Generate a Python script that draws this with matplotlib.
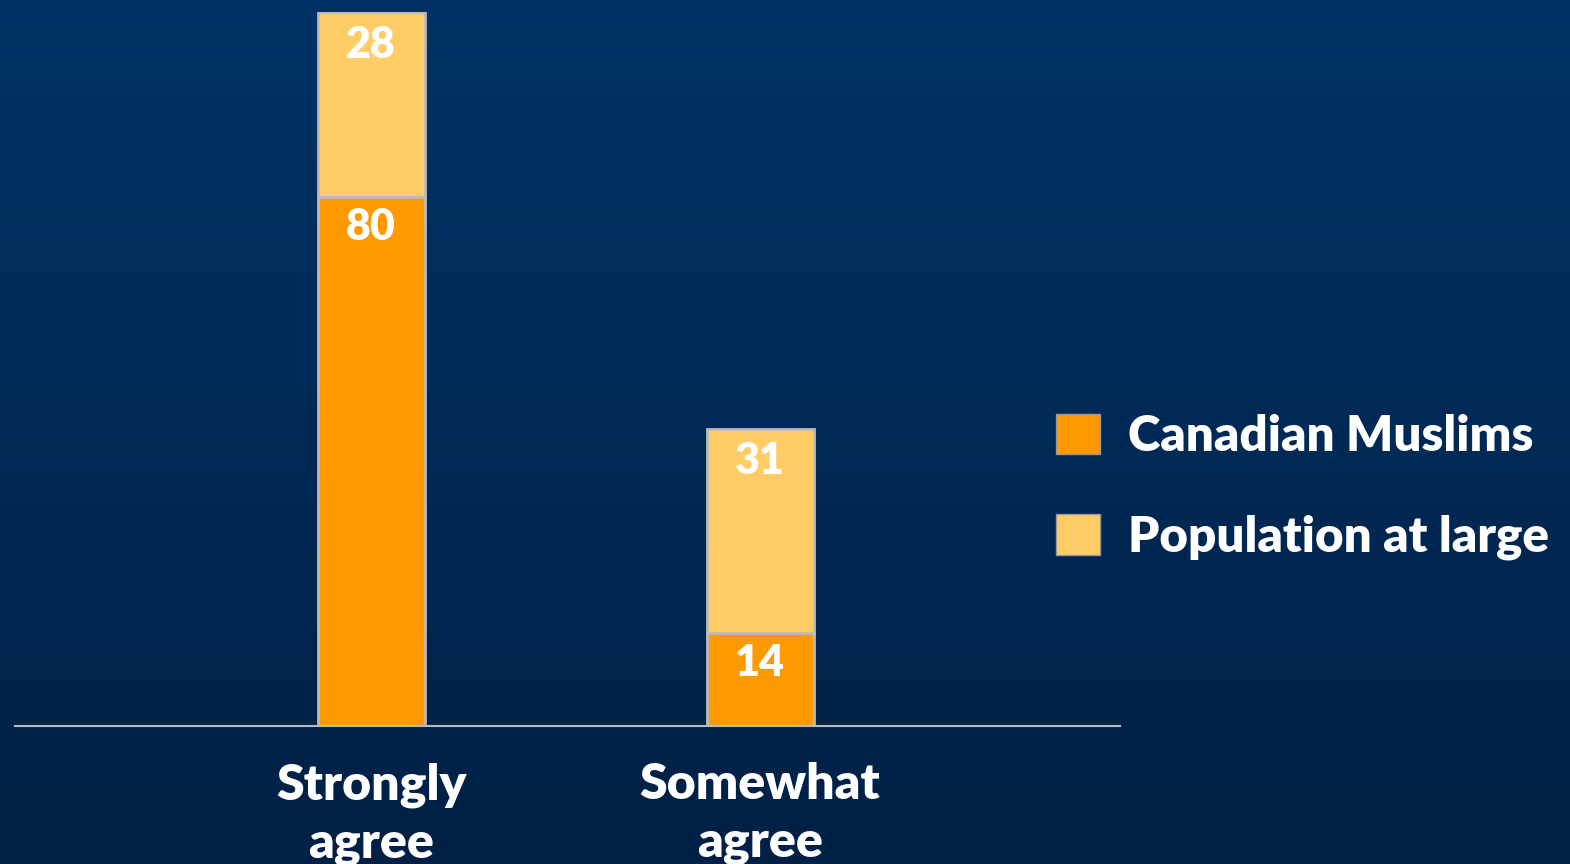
import numpy as np
import matplotlib
matplotlib.use("Agg")
import matplotlib.pyplot as plt
from matplotlib.patches import Patch
from matplotlib.colors import LinearSegmentedColormap

categories = ["Strongly\nagree", "Somewhat\nagree"]
muslims = [80, 14]
population = [28, 31]
series_names = ["Canadian Muslims", "Population at large"]

plt.rcParams['font.family'] = ['Lato', 'DejaVu Sans']
WEIGHT = 'heavy'

W, H = 1570, 864
fig = plt.figure(figsize=(W / 100, H / 100), dpi=100)

# gradient background
bg = fig.add_axes([0, 0, 1, 1], zorder=-10)
cmap = LinearSegmentedColormap.from_list("bg", ["#003366", "#002045"])
bg.imshow(np.linspace(0, 1, 256).reshape(-1, 1), aspect='auto', cmap=cmap,
          extent=[0, 1, 0, 1])
bg.set_axis_off()

left, right = 15 / W, 1120 / W
bottom = 1 - 726 / H
top = 1 - 12 / H
ax = fig.add_axes([left, bottom, right - left, top - bottom])
ax.patch.set_alpha(0)

x = np.arange(len(categories))
width = 0.275
c1, c2 = "#FF9900", "#FFCC66"
edge = "#BBBBBB"
ax.bar(x, muslims, width, color=c1, edgecolor=edge, linewidth=2)
ax.bar(x, population, width, bottom=muslims, color=c2, edgecolor=edge, linewidth=2)

ax.set_xlim(-0.915, 1.925)
ax.set_ylim(0, muslims[0] + population[0])

for i in range(len(categories)):
    ax.annotate(str(muslims[i]), (x[i], muslims[i]), xytext=(0, -30),
                textcoords='offset pixels', ha='center', va='center',
                color='white', fontsize=31, fontweight=WEIGHT)
    ax.annotate(str(population[i]), (x[i], muslims[i] + population[i]), xytext=(0, -33),
                textcoords='offset pixels', ha='center', va='center',
                color='white', fontsize=31, fontweight=WEIGHT)

for s in ['top', 'right', 'left']:
    ax.spines[s].set_visible(False)
ax.spines['bottom'].set_color('#BBBBBB')
ax.spines['bottom'].set_linewidth(1.5)
ax.set_yticks([])
ax.set_xticks(x)
ax.set_xticklabels(categories, color='white', fontsize=36, fontweight=WEIGHT,
                   linespacing=1.34)
ax.tick_params(axis='x', length=0, pad=26)

handles = [Patch(facecolor=c1, edgecolor='#999999'), Patch(facecolor=c2, edgecolor='#999999')]
leg = fig.legend(handles, series_names, loc='center left',
                 bbox_to_anchor=(1012 / W, 1 - 487 / H), frameon=False,
                 labelcolor='white', handlelength=0.88, handleheight=0.88,
                 handletextpad=0.57, labelspacing=1.12,
                 prop={'weight': WEIGHT, 'size': 35.5})

fig.savefig("out.png", dpi=100)
